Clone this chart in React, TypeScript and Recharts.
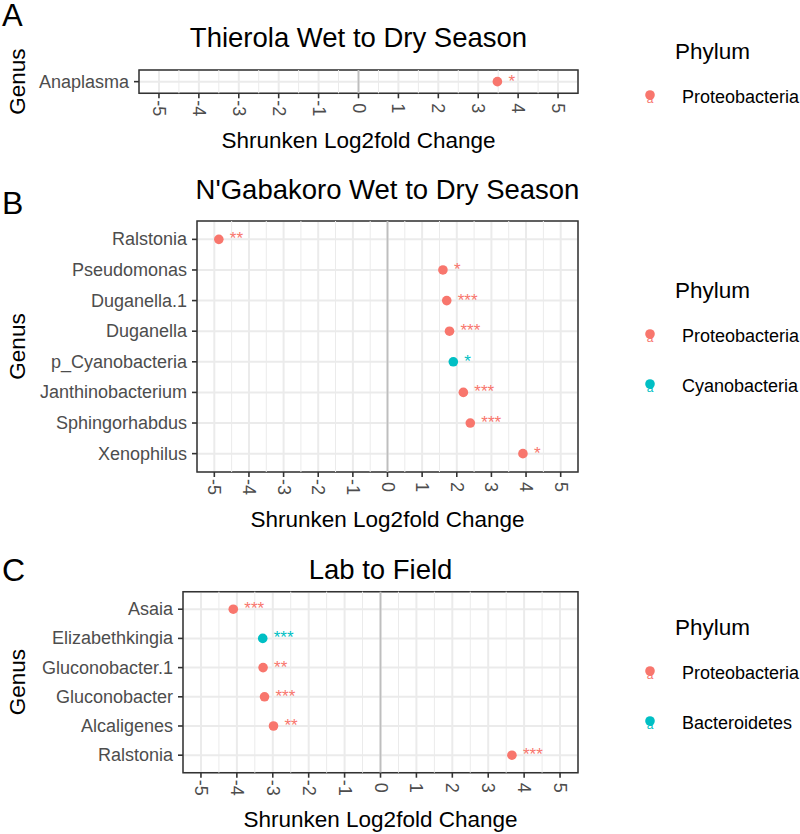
import React from "react";
import {
  ScatterChart,
  Scatter,
  XAxis,
  YAxis,
  CartesianGrid,
  ReferenceLine,
  ReferenceArea,
  Legend,
} from "recharts";

const FONT = '"Liberation Sans", Arial, Helvetica, sans-serif';
const PINK = "#F8766D";
const TEAL = "#00BFC4";

const phylumColors: Record<string, string> = {
  Proteobacteria: PINK,
  Cyanobacteria: TEAL,
  Bacteroidetes: TEAL,
};

// x axis
const xTicks = [-5, -4, -3, -2, -1, 0, 1, 2, 3, 4, 5];
const minorTicks = [-4.5, -3.5, -2.5, -1.5, -0.5, 0.5, 1.5, 2.5, 3.5, 4.5];

// A - Thierola
const genusA = ["Anaplasma"];
const lfcA = [3.48];
const sigA = ["*"];
const phylumA = ["Proteobacteria"];
const legendA = ["Proteobacteria"];

// B - N'Gabakoro
const genusB = [
  "Ralstonia",
  "Pseudomonas",
  "Duganella.1",
  "Duganella",
  "p_Cyanobacteria",
  "Janthinobacterium",
  "Sphingorhabdus",
  "Xenophilus",
];
const lfcB = [-4.87, 1.6, 1.71, 1.79, 1.9, 2.19, 2.39, 3.91];
const sigB = ["**", "*", "***", "***", "*", "***", "***", "*"];
const phylumB = [
  "Proteobacteria",
  "Proteobacteria",
  "Proteobacteria",
  "Proteobacteria",
  "Cyanobacteria",
  "Proteobacteria",
  "Proteobacteria",
  "Proteobacteria",
];
const legendB = ["Proteobacteria", "Cyanobacteria"];

// C - Lab to Field
const genusC = [
  "Asaia",
  "Elizabethkingia",
  "Gluconobacter.1",
  "Gluconobacter",
  "Alcaligenes",
  "Ralstonia",
];
const lfcC = [-4.1, -3.28, -3.27, -3.23, -2.98, 3.66];
const sigC = ["***", "***", "**", "***", "**", "***"];
const phylumC = [
  "Proteobacteria",
  "Bacteroidetes",
  "Proteobacteria",
  "Proteobacteria",
  "Proteobacteria",
  "Proteobacteria",
];
const legendC = ["Proteobacteria", "Bacteroidetes"];

type TxtProps = {
  x: number;
  y: number;
  size: number;
  anchor?: "start" | "middle" | "end";
  color?: string;
  lh?: number;
  children: React.ReactNode;
};

const Txt = ({ x, y, size, anchor = "middle", color = "#000", lh = 1.15, children }: TxtProps) => {
  const tx = anchor === "middle" ? "-50%" : anchor === "end" ? "-100%" : "0";
  return (
    <div
      style={{
        position: "absolute",
        left: x,
        top: y,
        transform: `translate(${tx}, -50%)`,
        fontSize: size,
        lineHeight: lh,
        whiteSpace: "nowrap",
        color,
        fontFamily: FONT,
      }}
    >
      {children}
    </div>
  );
};

const Dot = (props: any) => {
  const { cx, cy, payload } = props;
  const color = phylumColors[payload.phylum];
  return (
    <g>
      <circle cx={cx} cy={cy} r={4.8} fill={color} />
      <text x={cx + 11} y={cy + 5} fill={color} fontSize={17} fontFamily={FONT}>
        {payload.sig}
      </text>
    </g>
  );
};

type PanelProps = {
  genus: string[];
  lfc: number[];
  sig: string[];
  phylum: string[];
  legendItems: string[];
  top: number;
  height: number;
  plotTop: number;
  plotBottom: number;
  plotLeft: number;
  xAxisHeight: number;
  legendTitleY: number;
  legendKeyY: number;
};

function Panel(p: PanelProps) {
  const n = p.genus.length;
  const data = p.genus.map((g, i) => ({
    genus: g,
    row: n - i,
    lfc: p.lfc[i],
    sig: p.sig[i],
    phylum: p.phylum[i],
  }));
  const rows = data.map((d) => d.row).sort((a, b) => a - b);
  const plotRight = 578;
  const margin = {
    top: p.plotTop - p.top,
    right: 800 - plotRight,
    left: 0,
    bottom: p.top + p.height - p.plotBottom - p.xAxisHeight,
  };

  const YTick = ({ x, y, payload }: any) => (
    <text
      x={x}
      y={y}
      textAnchor="end"
      dominantBaseline="central"
      fill="#4D4D4D"
      fontSize={18}
      fontFamily={FONT}
    >
      {p.genus[n - payload.value]}
    </text>
  );

  const XTick = ({ x, y, payload }: any) => (
    <text
      x={x}
      y={y}
      transform={`rotate(90 ${x} ${y})`}
      textAnchor="middle"
      dominantBaseline="central"
      fill="#4D4D4D"
      fontSize={18}
      fontFamily={FONT}
    >
      {payload.value}
    </text>
  );

  const legendContent = () => (
    <div style={{ position: "relative", width: 800, height: p.height, fontFamily: FONT }}>
      <Txt x={675} y={p.legendTitleY - p.top} size={22.5} anchor="start">
        Phylum
      </Txt>
      {p.legendItems.map((item, i) => {
        const ky = p.legendKeyY - p.top + i * 50;
        const c = phylumColors[item];
        return (
          <React.Fragment key={item}>
            <svg
              width={20}
              height={24}
              style={{ position: "absolute", left: 640, top: ky - 12 }}
            >
              <circle cx={10} cy={10} r={4.8} fill={c} />
              <text x={10} y={18} textAnchor="middle" fontSize={12} fill={c} fontFamily={FONT}>
                a
              </text>
            </svg>
            <Txt x={682} y={ky} size={18} anchor="start">
              {item}
            </Txt>
          </React.Fragment>
        );
      })}
    </div>
  );

  return (
    <div style={{ position: "absolute", left: 0, top: p.top }}>
      <ScatterChart width={800} height={p.height} margin={margin}>
        <CartesianGrid stroke="#EBEBEB" strokeWidth={2} />
        {minorTicks.map((m) => (
          <ReferenceLine key={m} x={m} stroke="#EBEBEB" strokeWidth={1} />
        ))}
        <ReferenceLine x={0} stroke="#BEBEBE" strokeWidth={1.8} />
        <XAxis
          type="number"
          dataKey="lfc"
          domain={[-5.5, 5.5]}
          ticks={xTicks}
          interval={0}
          allowDataOverflow
          axisLine={false}
          tickLine={{ stroke: "#333333", strokeWidth: 1.6 }}
          tickSize={5}
          tickMargin={10}
          height={p.xAxisHeight}
          tick={XTick}
          label={(lp: any) => {
            const vb = lp.viewBox;
            return (
              <text
                x={vb.x + vb.width / 2}
                y={vb.y + 47}
                textAnchor="middle"
                dominantBaseline="central"
                fontSize={22.5}
                fontFamily={FONT}
                fill="#000"
              >
                Shrunken Log2fold Change
              </text>
            );
          }}
        />
        <YAxis
          type="number"
          dataKey="row"
          domain={[0.4, n + 0.6]}
          ticks={rows}
          interval={0}
          allowDataOverflow
          axisLine={false}
          tickLine={{ stroke: "#333333", strokeWidth: 1.6 }}
          tickSize={5}
          tickMargin={5}
          width={p.plotLeft}
          tick={YTick}
          label={(lp: any) => {
            const vb = lp.viewBox;
            const cy = vb.y + vb.height / 2;
            return (
              <text
                x={17.5}
                y={cy}
                transform={`rotate(-90 17.5 ${cy})`}
                textAnchor="middle"
                dominantBaseline="central"
                fontSize={22.5}
                fontFamily={FONT}
                fill="#000"
              >
                Genus
              </text>
            );
          }}
        />
        <ReferenceArea
          x1={-5.5}
          x2={5.5}
          y1={0.4}
          y2={n + 0.6}
          fill="none"
          fillOpacity={0}
          stroke="#333333"
          strokeWidth={1.5}
        />
        <Scatter data={data} shape={Dot} isAnimationActive={false} />
        <Legend
          layout="vertical"
          align="center"
          verticalAlign="middle"
          content={legendContent}
          wrapperStyle={{ left: 0, top: 0, width: 800, height: p.height, pointerEvents: "none" }}
        />
      </ScatterChart>
    </div>
  );
}

export default function App() {
  return (
    <div
      style={{
        position: "absolute",
        left: 0,
        top: 0,
        width: 800,
        height: 834,
        background: "#fff",
        fontFamily: FONT,
        overflow: "hidden",
      }}
    >
      <Panel
        genus={genusA}
        lfc={lfcA}
        sig={sigA}
        phylum={phylumA}
        legendItems={legendA}
        top={0}
        height={160}
        plotTop={70}
        plotBottom={93.3}
        plotLeft={139}
        xAxisHeight={60}
        legendTitleY={51.7}
        legendKeyY={97.3}
      />
      <Panel
        genus={genusB}
        lfc={lfcB}
        sig={sigB}
        phylum={phylumB}
        legendItems={legendB}
        top={180}
        height={360}
        plotTop={221}
        plotBottom={472}
        plotLeft={197}
        xAxisHeight={60}
        legendTitleY={290.7}
        legendKeyY={336}
      />
      <Panel
        genus={genusC}
        lfc={lfcC}
        sig={sigC}
        phylum={phylumC}
        legendItems={legendC}
        top={545}
        height={289}
        plotTop={591.7}
        plotBottom={772.7}
        plotLeft={183}
        xAxisHeight={55}
        legendTitleY={628}
        legendKeyY={673}
      />
      <Txt x={2} y={16} size={31} anchor="start" lh={0.8}>A</Txt>
      <Txt x={358.5} y={38} size={27.5}>Thierola Wet to Dry Season</Txt>
      <Txt x={2} y={203} size={32} anchor="start">B</Txt>
      <Txt x={387.5} y={190} size={27.5}>N'Gabakoro Wet to Dry Season</Txt>
      <Txt x={2} y={570} size={32} anchor="start">C</Txt>
      <Txt x={380.5} y={570} size={27.5}>Lab to Field</Txt>
    </div>
  );
}
